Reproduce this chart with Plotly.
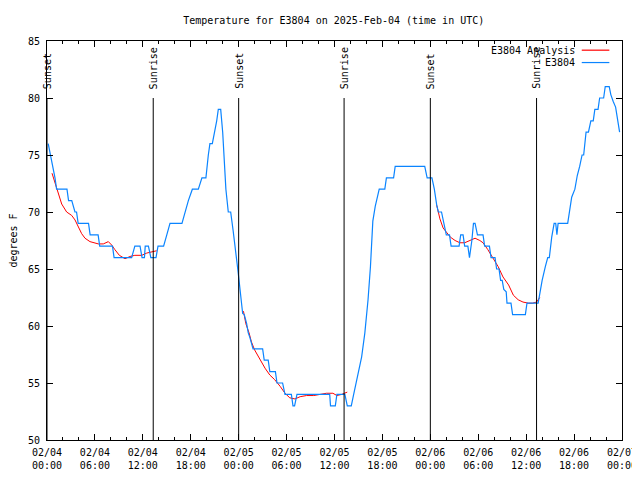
import plotly.graph_objects as go

# ---- data (hours since 2025-02-04 00:00 UTC) ----
blue_h = [0.15, 0.45, 1.0, 1.2, 2.5, 2.7, 3.1, 3.5, 3.7, 3.9, 5.2, 5.4, 6.4, 6.6, 8.2, 8.4, 10.6, 11.0, 11.65, 11.9,
          12.2, 12.3, 12.7, 13.0, 13.65, 13.9, 14.6, 15.0, 15.4, 16.9, 17.3, 17.7, 18.2, 18.95, 19.4, 19.9, 20.2, 20.4,
          20.7, 21.0, 21.25, 21.45, 21.75, 22.0, 22.2, 22.4, 22.7, 23.0, 23.3, 23.5, 23.8, 24.0, 24.3, 24.5, 24.7, 25.0,
          25.2, 25.4, 25.8, 27.0, 27.2, 27.7, 27.9, 28.6, 28.8, 29.5, 29.8, 30.6, 30.8, 31.0, 31.3, 35.4, 35.5, 36.1,
          36.3, 37.3, 37.6, 38.1, 38.4, 38.7, 39.0, 39.4, 39.8, 40.2, 40.5, 40.8, 41.1, 41.4, 41.6, 42.3, 42.5, 43.4,
          43.6, 47.3, 47.6, 48.2, 48.5, 48.8, 49.0, 49.4, 49.7, 50.0, 50.4, 50.6, 51.6, 51.8, 52.1, 52.3, 52.7, 52.9,
          53.2, 53.4, 53.6, 53.9, 54.6, 54.8, 55.4, 55.6, 56.1, 56.3, 56.6, 56.8, 57.0, 57.2, 57.5, 57.6, 58.1, 58.3,
          59.9, 60.1, 61.5, 61.7, 62.0, 62.4, 62.7, 62.9, 63.2, 63.5, 63.7, 63.85, 64.0, 65.2, 65.4, 65.7, 66.1, 66.4,
          66.7, 67.0, 67.2, 67.5, 67.8, 68.1, 68.4, 68.6, 69.0, 69.2, 69.7, 69.9, 70.4, 70.6, 70.9, 71.2, 71.7]
blue_t = [76, 75, 73, 72, 72, 71, 71, 70, 70, 69, 69, 68, 68, 67, 67, 66, 66, 67, 67, 66,
          66, 67, 67, 66, 66, 67, 67, 68, 69, 69, 70, 71, 72, 72, 73, 73, 75, 76,
          76, 77, 78, 79, 79, 77, 74, 72, 70, 70, 68.4, 67, 65.5, 64.3, 62.6, 61.1, 61, 60.2,
          59.4, 59, 58, 58, 57, 57, 56, 56, 55, 55, 54, 54, 53, 53, 54, 54, 53, 53,
          54, 54, 53, 53, 54, 55, 56, 57.3, 59.4, 62.3, 65.2, 69.2, 70.5, 71.3, 72, 72, 73, 73,
          74, 74, 73, 73, 72, 70.6, 70, 70, 69, 68, 68, 67, 67, 68, 68, 67, 67, 66,
          67.5, 69, 69, 68, 68, 67, 67, 66, 66, 65, 65, 64, 64, 63.2, 63, 62, 62, 61,
          61, 62, 62, 62.9, 64, 65.2, 66, 66, 67.8, 69, 69, 68, 69, 69, 70, 71.3, 72, 73.2,
          74, 75, 75, 77, 77, 78, 78, 79, 79, 80, 80, 81, 81, 80.3, 79.7, 79.2, 77]

red1_h = [0.63, 0.9, 1.42, 1.84, 2.46, 3.09, 3.51, 3.92, 4.34, 4.76, 5.38, 6.43, 7.05, 7.68, 8.1, 8.5, 9.06, 9.77,
          10.4, 11.0, 11.86, 12.5, 13.3, 13.73]
red1_t = [73.4, 72.8, 71.6, 70.7, 70.0, 69.7, 69.3, 68.7, 68.1, 67.7, 67.4, 67.2, 67.2, 67.4, 67.1, 66.7, 66.2, 65.9,
          66.1, 66.2, 66.2, 66.4, 66.5, 66.6]
red2_h = [24.6, 24.9, 25.3, 25.6, 26.0, 26.7, 27.3, 27.9, 28.5, 29.2, 29.8, 30.4, 31.05, 31.7, 32.5, 33.4, 34.2, 35.0,
          35.8, 36.3, 36.9, 37.3, 37.6]
red2_t = [61.3, 60.2, 59.4, 58.6, 57.9, 57.0, 56.3, 55.7, 55.3, 54.7, 54.1, 53.7, 53.6, 53.8, 53.9, 53.9, 54.0, 54.1,
          54.1, 53.9, 54.0, 54.1, 54.2]
red3_h = [48.8, 49.0, 49.2, 49.6, 50.0, 50.5, 51.1, 51.7, 52.3, 52.9, 53.6, 54.2, 54.6, 55.2, 55.9, 56.5, 57.1, 57.8,
          58.4, 59.0, 59.6, 60.3, 60.8, 61.3, 61.7]
red3_t = [70.6, 70.0, 69.4, 68.6, 68.2, 67.8, 67.5, 67.3, 67.3, 67.5, 67.7, 67.5, 67.3, 66.7, 65.9, 65.2, 64.3, 63.6,
          62.7, 62.3, 62.1, 62.0, 62.0, 62.1, 62.5]

sun_h = [0.0, 13.3, 24.0, 37.2, 48.0, 61.3]
sun_lbl = ["Sunset", "Sunrise", "Sunset", "Sunrise", "Sunset", "Sunrise"]

tick_h = [0, 6, 12, 18, 24, 30, 36, 42, 48, 54, 60, 66, 72]
tick_lbl = ["02/04<br>00:00", "02/04<br>06:00", "02/04<br>12:00", "02/04<br>18:00",
            "02/05<br>00:00", "02/05<br>06:00", "02/05<br>12:00", "02/05<br>18:00",
            "02/06<br>00:00", "02/06<br>06:00", "02/06<br>12:00", "02/06<br>18:00",
            "02/07<br>00:00"]

FONT = "DejaVu Sans Mono"
RED = "#ff0000"
BLUE = "#0a84ff"

fig = go.Figure()
for hh, tt in [(red1_h, red1_t), (red2_h, red2_t), (red3_h, red3_t)]:
    fig.add_trace(go.Scatter(x=hh, y=tt, mode="lines", line=dict(color=RED, width=1),
                             name="E3804 Analysis", showlegend=False))
fig.add_trace(go.Scatter(x=blue_h, y=blue_t, mode="lines", line=dict(color=BLUE, width=1.2),
                         name="E3804", showlegend=False))

for h, lbl in zip(sun_h, sun_lbl):
    fig.add_shape(type="line", x0=h, x1=h, y0=50, y1=80, xref="x", yref="y",
                  line=dict(color="black", width=1))
    fig.add_annotation(x=h, y=80.6, xref="x", yref="y", text=lbl, textangle=-90,
                       showarrow=False, xanchor="center", yanchor="bottom",
                       font=dict(family=FONT, size=10, color="black"))

# legend (gnuplot style: text then line sample)
leg = [("E3804 Analysis", RED, 0.977), ("E3804", BLUE, 0.946)]
for txt, col, yp in leg:
    fig.add_annotation(x=0.922, y=yp, xref="paper", yref="paper", text=txt, showarrow=False,
                       xanchor="right", yanchor="middle", font=dict(family=FONT, size=10, color="black"))
    fig.add_shape(type="line", x0=0.930, x1=0.978, y0=yp, y1=yp, xref="paper", yref="paper",
                  line=dict(color=col, width=1.2))

# page body has an 8px margin, so the figure is laid out 8px up/left of the reference positions
fig.update_layout(
    width=640, height=480,
    margin=dict(l=39, r=26, t=33, b=48, autoexpand=False),
    paper_bgcolor="white", plot_bgcolor="white",
    font=dict(family=FONT, size=10, color="black"),
    title=dict(text="Temperature for E3804 on 2025-Feb-04 (time in UTC)", x=0.509, xanchor="center",
               y=1 - 12 / 480, yanchor="middle", font=dict(family=FONT, size=10, color="black")),
    showlegend=False,
)
fig.update_xaxes(range=[0, 72], tickvals=tick_h, ticktext=tick_lbl, ticks="inside", ticklen=6,
                 tickcolor="black", showline=True, linecolor="black", linewidth=1, mirror="allticks",
                 showgrid=False, zeroline=False, automargin=False, ticklabelstandoff=3,
                 minor=dict(dtick=2, tick0=0, ticks="inside", ticklen=3, tickcolor="black", showgrid=False))
fig.update_yaxes(range=[50, 85], dtick=5, tick0=50, ticks="inside", ticklen=6, tickcolor="black",
                 showline=True, linecolor="black", linewidth=1, mirror="allticks", showgrid=False,
                 zeroline=False, automargin=False, ticklabelstandoff=4,
                 title=dict(text="degrees F", standoff=11, font=dict(family=FONT, size=10)))

fig.write_html("out.html")
